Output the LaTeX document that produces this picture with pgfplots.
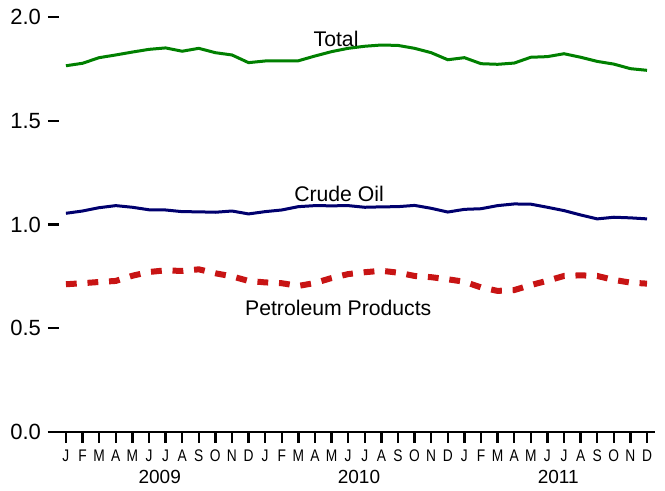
\documentclass[border=0pt]{standalone}
\usepackage{pgfplots}
\usepackage{pgfplotstable}
\pgfplotsset{compat=1.18}
\usepackage{fontspec}
\setmainfont{Liberation Sans}
\newfontfamily\condfont[FakeStretch=0.82]{Liberation Sans}
\definecolor{totgreen}{RGB}{0,128,0}
\definecolor{crudenavy}{RGB}{0,0,110}
\definecolor{petred}{RGB}{200,20,20}
\pgfplotstableread{
m total crude pet
0 1.765 1.054 0.712
1 1.777 1.065 0.717
2 1.804 1.081 0.723
3 1.817 1.091 0.728
4 1.831 1.083 0.753
5 1.844 1.071 0.771
6 1.851 1.070 0.779
7 1.835 1.062 0.776
8 1.849 1.061 0.784
9 1.828 1.059 0.765
10 1.817 1.065 0.750
11 1.780 1.051 0.728
12 1.788 1.062 0.721
13 1.788 1.070 0.717
14 1.789 1.086 0.704
15 1.812 1.091 0.718
16 1.833 1.090 0.742
17 1.849 1.091 0.761
18 1.859 1.083 0.770
19 1.865 1.085 0.777
20 1.863 1.086 0.768
21 1.849 1.092 0.752
22 1.828 1.078 0.746
23 1.794 1.060 0.736
24 1.804 1.073 0.724
25 1.775 1.076 0.697
26 1.772 1.091 0.680
27 1.778 1.099 0.684
28 1.806 1.098 0.708
29 1.809 1.083 0.729
30 1.823 1.067 0.752
31 1.806 1.046 0.755
32 1.786 1.027 0.752
33 1.773 1.035 0.733
34 1.751 1.032 0.720
35 1.743 1.027 0.715
}\datatable
\begin{document}
\begin{tikzpicture}
\begin{axis}[
  name=ax,
  scale only axis,
  width=303.5pt, height=207.5pt,
  xmin=-1.08, xmax=35.48,
  ymin=0, ymax=2,
  axis lines=left,
  axis line style={-, line width=1.2pt},
  y axis line style={draw=none},
  xtick={0,...,35},
  xticklabels={J,F,M,A,M,J,J,A,S,O,N,D,J,F,M,A,M,J,J,A,S,O,N,D,J,F,M,A,M,J,J,A,S,O,N,D},
  ytick={0,0.5,1,1.5,2},
  xtick align=outside,
  ytick align=inside,
  major tick length=5.5pt,
  major tick style={line width=1.2pt, black},
  /pgf/number format/assume math mode=true,
  yticklabel style={font=\fontsize{11}{12}\selectfont, /pgf/number format/fixed, /pgf/number format/fixed zerofill, /pgf/number format/precision=1},
  xticklabel style={font=\condfont\fontsize{8.4}{10}\selectfont, inner sep=1pt, anchor=north, text height=6.5pt, text depth=0pt, yshift=-1.8pt},
  clip=false,
]
\addplot[color=totgreen, line width=1.5pt] table[x=m, y=total] {\datatable};
\addplot[color=crudenavy, line width=1.5pt] table[x=m, y=crude] {\datatable};
\addplot[color=petred, line width=3pt, dash pattern=on 5.4pt off 5.4pt] table[x=m, y=pet] {\datatable};
\node[font=\fontsize{10.6}{12}\selectfont] at (axis cs:16.27,1.894) {Total};
\node[font=\fontsize{10.6}{12}\selectfont] at (axis cs:16.45,1.145) {Crude Oil};
\node[font=\fontsize{10.6}{12}\selectfont] at (axis cs:16.4,0.600) {Petroleum Products};
\node[font=\fontsize{9.5}{11}\selectfont, yshift=-22.5pt] at (axis cs:5.65,0) {2009};
\node[font=\fontsize{9.5}{11}\selectfont, yshift=-22.5pt] at (axis cs:17.65,0) {2010};
\node[font=\fontsize{9.5}{11}\selectfont, yshift=-22.5pt] at (axis cs:29.65,0) {2011};
\end{axis}
\path[use as bounding box] ([shift={(-24pt,-28.5pt)}]ax.south west) rectangle ([shift={(5pt,8.5pt)}]ax.north east);
\end{tikzpicture}
\end{document}
